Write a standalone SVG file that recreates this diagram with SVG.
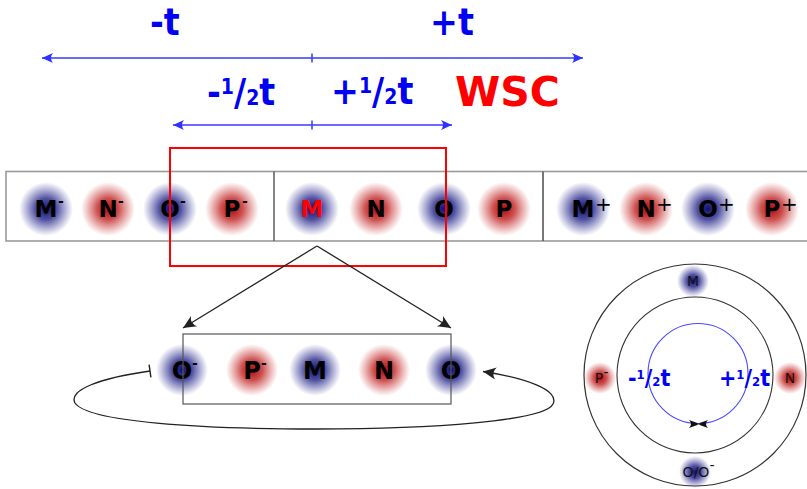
<svg xmlns="http://www.w3.org/2000/svg" width="807" height="489" viewBox="0 0 807 489">
<style>
.lbl{font-family:"DejaVu Sans Condensed","DejaVu Sans","Liberation Sans",sans-serif;font-weight:bold;fill:#0000f5}
.at{font-family:"DejaVu Sans","Liberation Sans",sans-serif;font-weight:bold;font-size:23px;text-anchor:middle;fill:#000}
.at2{font-family:"DejaVu Sans","Liberation Sans",sans-serif;font-weight:bold;font-size:24px;text-anchor:middle;fill:#000}
.sm{font-family:"DejaVu Sans","Liberation Sans",sans-serif;font-weight:bold;font-size:14px;fill:#000}
.sp{font-family:"DejaVu Sans","Liberation Sans",sans-serif;font-size:20px;fill:#000}
.ring{font-family:"DejaVu Sans","Liberation Sans",sans-serif;font-size:14px;text-anchor:middle;fill:#111}
.bl{stroke:#3838ff;stroke-width:1.5;fill:none}
.bk{stroke:#222;stroke-width:1.3;fill:none}
.b{fill:url(#gb)}
.r{fill:url(#gr)}
</style>
<defs>
<radialGradient id="gb"><stop offset="0" stop-color="#10106e"/><stop offset="0.4" stop-color="#26268a" stop-opacity="0.8"/><stop offset="1" stop-color="#4040a0" stop-opacity="0"/></radialGradient>
<radialGradient id="gr"><stop offset="0" stop-color="#b00808"/><stop offset="0.4" stop-color="#c02424" stop-opacity="0.8"/><stop offset="1" stop-color="#d04040" stop-opacity="0"/></radialGradient>
<marker id="ab" viewBox="-12 -6 13 12" markerWidth="13" markerHeight="12" refX="0" refY="0" orient="auto-start-reverse" markerUnits="userSpaceOnUse"><path d="M0,0 L-11,-5 Q-7,0 -11,5 Z" fill="#3030ff"/></marker>
<marker id="ak" viewBox="-14 -7 15 14" markerWidth="15" markerHeight="14" refX="0" refY="0" orient="auto" markerUnits="userSpaceOnUse"><path d="M0,0 L-13,-6 Q-8,0 -13,6 Z" fill="#222"/></marker>
<marker id="bar" viewBox="-2 -8 4 16" markerWidth="4" markerHeight="16" refX="0" refY="0" orient="auto" markerUnits="userSpaceOnUse"><path d="M0,-6.5 L0,6.5" stroke="#222" stroke-width="1.4"/></marker>
</defs>
<rect width="807" height="489" fill="#fff"/>

<g id="labels">
<text class="lbl" x="150" y="35" font-size="37">-t</text>
<text class="lbl" x="430" y="35" font-size="37">+t</text>
<text class="lbl" x="207" y="105" font-size="37">-<tspan font-size="21" dy="-11">1</tspan><tspan dy="11">/</tspan><tspan font-size="21">2</tspan>t</text>
<text class="lbl" x="331" y="104" font-size="37">+<tspan font-size="21" dy="-11">1</tspan><tspan dy="11">/</tspan><tspan font-size="21">2</tspan>t</text>
<text x="455" y="106" font-family="DejaVu Sans, Liberation Sans, sans-serif" font-weight="bold" font-size="41" fill="#ff0000">WSC</text>
</g>

<g id="axes">
<line class="bl" x1="42" y1="58" x2="583" y2="58" marker-start="url(#ab)" marker-end="url(#ab)"/>
<line class="bl" x1="312" y1="53.5" x2="312" y2="62.5"/>
<line class="bl" x1="173" y1="125" x2="452" y2="125" marker-start="url(#ab)" marker-end="url(#ab)"/>
<line class="bl" x1="312" y1="120.5" x2="312" y2="129.5"/>
</g>

<g id="chain">
<g id="n-Mm"><circle class="b" cx="46" cy="209" r="27"/><text class="at" x="46" y="217">M</text><text class="sm" x="58" y="206">-</text></g>
<g id="n-Nm"><circle class="r" cx="108" cy="209" r="27"/><text class="at" x="108" y="217">N</text><text class="sm" x="118" y="206">-</text></g>
<g id="n-Om"><circle class="b" cx="170" cy="209" r="27"/><text class="at" x="170" y="217">O</text><text class="sm" x="180" y="206">-</text></g>
<g id="n-Pm"><circle class="r" cx="232" cy="209" r="27"/><text class="at" x="232" y="217">P</text><text class="sm" x="242" y="206">-</text></g>
<g id="n-M"><circle class="b" cx="312" cy="209" r="27"/><text class="at" x="312" y="217" style="fill:#ff0000">M</text></g>
<g id="n-N"><circle class="r" cx="376" cy="209" r="27"/><text class="at" x="376" y="217">N</text></g>
<g id="n-O"><circle class="b" cx="444" cy="209" r="27"/><text class="at" x="444" y="217">O</text></g>
<g id="n-P"><circle class="r" cx="504" cy="209" r="27"/><text class="at" x="504" y="217">P</text></g>
<g id="n-Mp"><circle class="b" cx="583" cy="209" r="27"/><text class="at" x="583" y="217">M</text><text class="sp" x="595" y="211">+</text></g>
<g id="n-Np"><circle class="r" cx="646" cy="209" r="27"/><text class="at" x="646" y="217">N</text><text class="sp" x="656" y="211">+</text></g>
<g id="n-Op"><circle class="b" cx="708" cy="209" r="27"/><text class="at" x="708" y="217">O</text><text class="sp" x="718" y="211">+</text></g>
<g id="n-Pp"><circle class="r" cx="772" cy="209" r="27"/><text class="at" x="772" y="217">P</text><text class="sp" x="781" y="211">+</text></g>
<rect x="6" y="171.5" width="810" height="69.5" fill="none" stroke="#9a9a9a" stroke-width="1.6"/>
<line x1="274" y1="171.5" x2="274" y2="241" stroke="#666" stroke-width="1.6"/>
<line x1="543" y1="171.5" x2="543" y2="241" stroke="#555" stroke-width="1.6"/>
</g>

<g id="cell">
<g id="c-Om"><circle class="b" cx="182" cy="370" r="26"/><text class="at2" x="182" y="379">O</text><text class="sm" x="192" y="368">-</text></g>
<g id="c-Pm"><circle class="r" cx="252" cy="370" r="26"/><text class="at2" x="252" y="379">P</text><text class="sm" x="261" y="368">-</text></g>
<g id="c-M"><circle class="b" cx="315" cy="370" r="26"/><text class="at2" x="315" y="379">M</text></g>
<g id="c-N"><circle class="r" cx="384" cy="370" r="26"/><text class="at2" x="384" y="379">N</text></g>
<g id="c-O"><circle class="b" cx="451" cy="370" r="26"/><text class="at2" x="451" y="379">O</text></g>
<rect x="183" y="334" width="268" height="70" fill="none" stroke="#555" stroke-width="1.2"/>
</g>

<g id="highlight">
<rect x="170" y="148" width="276" height="118" fill="none" stroke="#ff0000" stroke-width="2"/>
</g>

<g id="connectors">
<line class="bk" x1="317" y1="246" x2="183" y2="328" marker-end="url(#ak)"/>
<line class="bk" x1="317" y1="246" x2="451" y2="328" marker-end="url(#ak)"/>
<path class="bk" d="M150,371 C100,378 68,390 75,403 C88,422 200,429 316,429 C432,429 545,421 553,404 C560,390 525,378 483,371.5" marker-start="url(#bar)" marker-end="url(#ak)"/>
</g>

<g id="ring">
<circle cx="695" cy="375" r="111" fill="none" stroke="#333" stroke-width="1.2"/>
<circle cx="695" cy="375" r="78" fill="none" stroke="#333" stroke-width="1.1"/>
<circle cx="698" cy="373.5" r="50" fill="none" stroke="#4a4aff" stroke-width="1.1"/>
<path d="M700,424 L689,420 Q693,424 689,428 Z M697,424 L708,420 Q704,424 708,428 Z" fill="#111"/>
<text class="lbl" x="628" y="386" font-size="23">-<tspan font-size="13" dy="-7">1</tspan><tspan dy="7">/</tspan><tspan font-size="13">2</tspan>t</text>
<text class="lbl" x="719" y="386" font-size="23">+<tspan font-size="13" dy="-7">1</tspan><tspan dy="7">/</tspan><tspan font-size="13">2</tspan>t</text>
<g id="r-M"><circle class="b" cx="693" cy="281" r="16"/><text class="ring" x="693" y="286">M</text></g>
<g id="r-P"><circle class="r" cx="600" cy="378" r="16"/><text class="ring" x="599" y="383">P</text><text class="ring" x="606" y="377" font-size="9">-</text></g>
<g id="r-N"><circle class="r" cx="790" cy="378" r="16"/><text class="ring" x="790" y="383">N</text></g>
<g id="r-O"><circle class="b" cx="695" cy="472" r="16"/><text class="ring" x="696" y="477">O/O</text><text class="ring" x="712" y="470" font-size="9">-</text></g>
</g>
</svg>
